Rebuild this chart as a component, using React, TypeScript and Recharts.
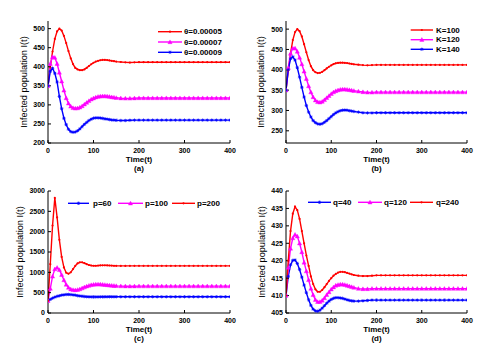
import React from 'react';
import { LineChart, Line, XAxis, YAxis, Legend } from 'recharts';

const FONT = '"Liberation Sans", Arial, Helvetica, sans-serif';

// Time samples (t)
const T = [0,5,10,15,20,25,30,35,40,45,50,55,60,65,70,75,80,85,90,95,100,105,110,115,120,125,130,135,140,145,150,
  160,170,180,190,200,210,220,230,240,250,260,270,280,290,300,310,320,330,340,350,360,370,380,390,400];

const X_TICKS = [0, 100, 200, 300, 400];

// (a) theta
const A_NAMES = ['θ=0.00005', 'θ=0.00007', 'θ=0.00009'];
const A_RED = [350,398,440,473,493,500,495,481,462,441, 422,407,397,393,391,391,393,397,402,406.5,
  410.5,413.5,415.5,417,418,418,417.5,416.5,415.5,414.5, 413.5,412.5,411.5,411,411.5,
  412,412,412,412,412,412,412, 412,412,412,412,412,412,412, 412,412,412,412,412,412,412];
const A_MAG = [350,408,426,424,408,385,362,338,318,304, 296,292,291,291.5,293.5,297,301.5,306,310.5,314.5,
  317.5,320,321.5,322.5,323,323,322.5,321.5,320.5,319.5, 318.5,317.5,317,317,317.5,
  318,318,318,318,318,318,318, 318,318,318,318,318,318,318, 318,318,318,318,318,318,318];
const A_BLUE = [350,388,396,383,360,322,290,265,248,236, 230,228,229,232,237,243,249,254,259,262.5,
  265,266,266,265.5,264.5,263.5,262.5,261.5,260.5,260, 259.5,259,259,259.5,260,
  260,260,260,260,260,260,260, 260,260,260,260,260,260,260, 260,260,260,260,260,260,260];
const A_YTICKS = [200, 250, 300, 350, 400, 450, 500];

// (b) K
const B_NAMES = ['K=100', 'K=120', 'K=140'];
const B_RED = [350,398,440,473,493,500,495,482,463,443, 424,409,399,394,392,392.5,395,399,403.5,407.5,
  411,414,416,417,417.5,417.5,417,416.5,415.5,414.5, 413.5,412.5,411.5,411,411.5,
  412,412,412,412,412,412,412, 412,412,412,412,412,412,412, 412,412,412,412,412,412,412];
const B_MAG = [350,405,440,453,453,445,430,414,396,378, 360,345,333,325,321,320,322,326,331,336,
  341,345,348,350,351.5,352,352,351.5,350.5,349.5, 348.5,347,345.5,344.5,344.5,
  345,345,345,345,345,345,345, 345,345,345,345,345,345,345, 345,345,345,345,345,345,345];
const B_BLUE = [350,400,427,432,424,405,382,357,333,312, 296,284,275,270,267,266,267.5,271,275,280,
  285,290,294,297,299.5,300.5,301,300.5,299.5,298.5, 297.5,296,294.5,294,294,
  294.5,294.5,294.5,294.5,294.5,294.5,294.5, 294.5,294.5,294.5,294.5,294.5,294.5,294.5, 294.5,294.5,294.5,294.5,294.5,294.5,294.5];
const B_YTICKS = [250, 300, 350, 400, 450, 500];

// (c) p
const C_NAMES = ['p=60', 'p=100', 'p=200'];
const C_BLUE = [300,335,365,390,410,425,438,448,454,456, 453,446,437,427,418,411,405,401,398,396,
  395.5,395.5,396,397,398,399,400,400,400,400, 400,400,400,400,400,
  400,400,400,400,400,400,400, 400,400,400,400,400,400,400, 400,400,400,400,400,400,400];
const C_MAG = [300,600,900,1080,1115,1060,940,810,700,625, 585,568,565,572,588,610,635,657,675,690,
  700,705,706,705,700,694,688,682,676,671, 667,662,659,658,659,
  660,660,660,660,660,660,660, 660,660,660,660,660,660,660, 660,660,660,660,660,660,660];
const C_RED = [300,1200,2150,2830,2350,1800,1380,1120,990,965, 1000,1080,1160,1220,1245,1245,1225,1200,1180,1168,
  1162,1162,1166,1170,1172,1172,1170,1168,1165,1162, 1160,1158,1158,1159,1160,
  1160,1160,1160,1160,1160,1160,1160, 1160,1160,1160,1160,1160,1160,1160, 1160,1160,1160,1160,1160,1160,1160];
const C_YTICKS = [0, 500, 1000, 1500, 2000, 2500, 3000];

// (d) q
const D_NAMES = ['q=40', 'q=120', 'q=240'];
const D_BLUE = [410,415.5,418.8,420.1,420.2,419.2,417.5,415.3,413,410.8, 408.8,407.2,406.1,405.6,405.5,405.8,406.4,407.1,407.8,408.4,
  408.9,409.2,409.4,409.4,409.3,409.2,409,408.8,408.6,408.5, 408.4,408.4,408.5,408.6,408.7,
  408.7,408.7,408.7,408.7,408.7,408.7,408.7, 408.7,408.7,408.7,408.7,408.7,408.7,408.7, 408.7,408.7,408.7,408.7,408.7,408.7,408.7];
const D_MAG = [410,418,423.5,426.5,427.5,427,425,422.5,419.5,417, 414.5,412,410.2,408.8,408.2,408.2,408.6,409.3,410.2,411,
  411.8,412.4,412.9,413.1,413.2,413.2,413.1,412.9,412.7,412.5, 412.3,412,411.9,411.9,412,
  412,412,412,412,412,412,412, 412,412,412,412,412,412,412, 412,412,412,412,412,412,412];
const D_RED = [410,420,428.5,433.5,435.5,434.5,432,428.5,425,421.5, 418.5,415.5,413.3,411.8,411.1,411.1,411.6,412.4,413.3,414.2,
  415,415.7,416.2,416.6,416.8,416.8,416.7,416.5,416.3,416.1, 415.9,415.7,415.6,415.6,415.7,
  415.8,415.8,415.8,415.8,415.8,415.8,415.8, 415.8,415.8,415.8,415.8,415.8,415.8,415.8, 415.8,415.8,415.8,415.8,415.8,415.8,415.8];
const D_YTICKS = [405, 410, 415, 420, 425, 430, 435, 440];

const RED = '#ff0000';
const MAG = '#ff00ff';
const BLUE = '#0000ff';

type Marker = 'dot' | 'tri' | 'star';
type SeriesDef = { key: string; name: string; color: string; marker: Marker };
type LegendItem = { x0: number; x1: number; tx: number; y: number };

function markerShape(kind: Marker, cx: number, cy: number, color: string, key: string) {
  if (kind === 'dot') return <circle key={key} cx={cx} cy={cy} r={1.1} fill={color} />;
  if (kind === 'tri') {
    const s = 2.1;
    return (
      <path key={key} d={`M${cx},${cy - s} L${cx + s},${cy + s * 0.8} L${cx - s},${cy + s * 0.8} Z`}
        fill={color} stroke={color} strokeWidth={0.4} />
    );
  }
  const s = 1.7;
  const d = s * 0.7;
  return (
    <path key={key}
      d={`M${cx - s},${cy}H${cx + s}M${cx},${cy - s}V${cy + s}M${cx - d},${cy - d}L${cx + d},${cy + d}M${cx - d},${cy + d}L${cx + d},${cy - d}`}
      stroke={color} strokeWidth={0.7} fill="none" />
  );
}

const AX = { stroke: '#000', strokeWidth: 1 };
const TICK = { fill: '#000', fontSize: 7, fontFamily: FONT, fontWeight: 'bold' };

type PanelProps = {
  left: number; top: number; width: number; height: number;
  margin: { top: number; right: number; bottom: number; left: number };
  data: any[]; series: SeriesDef[];
  yDomain: [number, number]; yTicks: number[];
  letter: string; yLabelGap: number;
  legendItems: LegendItem[];
};

function Panel(p: PanelProps) {
  const plotH = p.height - p.margin.top - p.margin.bottom - 20;
  const plotLeft = p.margin.left + 40;
  const plotW = p.width - plotLeft - p.margin.right;
  const yLabelX = plotLeft - p.yLabelGap;
  const yLabelY = p.margin.top + plotH / 2;
  const xCenter = plotLeft + plotW / 2;
  const plotBottom = p.margin.top + plotH;

  return (
    <div style={{ position: 'absolute', left: p.left, top: p.top, width: p.width, height: p.height }}>
      <LineChart width={p.width} height={p.height} data={p.data} margin={p.margin}>
        <XAxis xAxisId="b" dataKey="t" type="number" domain={[0, 400]} ticks={X_TICKS} interval={0}
          height={20} tickSize={-3} tickMargin={8} axisLine={AX} tickLine={AX} tick={TICK} allowDataOverflow
          label={() => (
            <g>
              <text x={xCenter} y={plotBottom + 16.3} textAnchor="middle" dominantBaseline="central"
                fontSize={8} fontWeight="bold" fontFamily={FONT} fill="#000">Time(t)</text>
              <text x={xCenter} y={plotBottom + 25.3} textAnchor="middle" dominantBaseline="central"
                fontSize={8} fontWeight="bold" fontFamily={FONT} fill="#000">{p.letter}</text>
            </g>
          )} />
        <XAxis xAxisId="t" dataKey="t" type="number" orientation="top" domain={[0, 400]} ticks={X_TICKS}
          interval={0} height={0} tickSize={-3} tick={false} axisLine={AX} tickLine={AX} allowDataOverflow />
        <YAxis yAxisId="l" type="number" domain={p.yDomain} ticks={p.yTicks} interval={0} width={40}
          tickSize={-3} tickMargin={6} axisLine={AX} tickLine={AX} tick={TICK} allowDataOverflow
          label={() => (
            <text x={yLabelX} y={yLabelY} transform={`rotate(-90 ${yLabelX} ${yLabelY})`} textAnchor="middle"
              dominantBaseline="central" fontSize={9.2} fontFamily={FONT} fill="#000">Infected population I(t)</text>
          )} />
        <YAxis yAxisId="r" orientation="right" type="number" domain={p.yDomain} ticks={p.yTicks} interval={0}
          width={0} tickSize={-3} tick={false} axisLine={AX} tickLine={AX} allowDataOverflow />
        {p.series.map((s) => (
          <Line key={s.key} xAxisId="b" yAxisId="l" type="linear" dataKey={s.key} stroke={s.color}
            strokeWidth={1.4} isAnimationActive={false} activeDot={false}
            dot={(dp: any) => markerShape(s.marker, dp.cx, dp.cy, s.color, `${s.key}-${dp.index}`)} />
        ))}
        <Legend layout="vertical" align="center" verticalAlign="middle"
          wrapperStyle={{ left: 0, top: 0, width: p.width, height: p.height, pointerEvents: 'none' }}
          content={() => (
            <svg width={p.width} height={p.height} style={{ display: 'block', overflow: 'visible' }}>
              {p.series.map((s, i) => {
                const it = p.legendItems[i];
                return (
                  <g key={s.key}>
                    <line x1={it.x0} x2={it.x1} y1={it.y} y2={it.y} stroke={s.color} strokeWidth={1.4} />
                    {markerShape(s.marker, (it.x0 + it.x1) / 2, it.y, s.color, 'm')}
                    <text x={it.tx} y={it.y} dominantBaseline="central" fontSize={8} fontWeight="bold" fontFamily={FONT} fill="#000">{s.name}</text>
                  </g>
                );
              })}
            </svg>
          )} />
      </LineChart>
    </div>
  );
}

const rowsA = T.map((t, i) => ({ t, r: A_RED[i], m: A_MAG[i], b: A_BLUE[i] }));
const rowsB = T.map((t, i) => ({ t, r: B_RED[i], m: B_MAG[i], b: B_BLUE[i] }));
const rowsC = T.map((t, i) => ({ t, b: C_BLUE[i], m: C_MAG[i], r: C_RED[i] }));
const rowsD = T.map((t, i) => ({ t, b: D_BLUE[i], m: D_MAG[i], r: D_RED[i] }));

export default function App() {
  return (
    <div style={{ position: 'absolute', left: 0, top: 0, width: 487, height: 350, background: '#fff' }}>
      <Panel left={0} top={0} width={243} height={175}
        margin={{ top: 21, right: 13, bottom: 12, left: 8 }}
        data={rowsA}
        series={[
          { key: 'r', name: A_NAMES[0], color: RED, marker: 'dot' },
          { key: 'm', name: A_NAMES[1], color: MAG, marker: 'tri' },
          { key: 'b', name: A_NAMES[2], color: BLUE, marker: 'star' },
        ]}
        yDomain={[200, 520]} yTicks={A_YTICKS} letter="(a)" yLabelGap={24}
        legendItems={[
          { x0: 158, x1: 182, tx: 184, y: 31.7 },
          { x0: 158, x1: 182, tx: 184, y: 42 },
          { x0: 158, x1: 182, tx: 184, y: 52.3 },
        ]} />
      <Panel left={243} top={0} width={244} height={175}
        margin={{ top: 21, right: 20, bottom: 12, left: 3 }}
        data={rowsB}
        series={[
          { key: 'r', name: B_NAMES[0], color: RED, marker: 'dot' },
          { key: 'm', name: B_NAMES[1], color: MAG, marker: 'tri' },
          { key: 'b', name: B_NAMES[2], color: BLUE, marker: 'star' },
        ]}
        yDomain={[220, 520]} yTicks={B_YTICKS} letter="(b)" yLabelGap={25}
        legendItems={[
          { x0: 167.7, x1: 190, tx: 193, y: 30 },
          { x0: 167.7, x1: 190, tx: 193, y: 39.7 },
          { x0: 167.7, x1: 190, tx: 193, y: 49.3 },
        ]} />
      <Panel left={0} top={175} width={243} height={175}
        margin={{ top: 16, right: 13, bottom: 17, left: 8 }}
        data={rowsC}
        series={[
          { key: 'b', name: C_NAMES[0], color: BLUE, marker: 'star' },
          { key: 'm', name: C_NAMES[1], color: MAG, marker: 'tri' },
          { key: 'r', name: C_NAMES[2], color: RED, marker: 'dot' },
        ]}
        yDomain={[0, 3000]} yTicks={C_YTICKS} letter="(c)" yLabelGap={28}
        legendItems={[
          { x0: 68, x1: 89, tx: 93, y: 28.3 },
          { x0: 118, x1: 143, tx: 145, y: 28.3 },
          { x0: 172, x1: 195, tx: 197, y: 28.3 },
        ]} />
      <Panel left={243} top={175} width={244} height={175}
        margin={{ top: 16, right: 20, bottom: 17, left: 3 }}
        data={rowsD}
        series={[
          { key: 'b', name: D_NAMES[0], color: BLUE, marker: 'star' },
          { key: 'm', name: D_NAMES[1], color: MAG, marker: 'tri' },
          { key: 'r', name: D_NAMES[2], color: RED, marker: 'dot' },
        ]}
        yDomain={[405, 440]} yTicks={D_YTICKS} letter="(d)" yLabelGap={24}
        legendItems={[
          { x0: 65, x1: 88, tx: 90, y: 27.3 },
          { x0: 115, x1: 139, tx: 141, y: 27.3 },
          { x0: 167, x1: 190, tx: 193, y: 27.3 },
        ]} />
    </div>
  );
}
